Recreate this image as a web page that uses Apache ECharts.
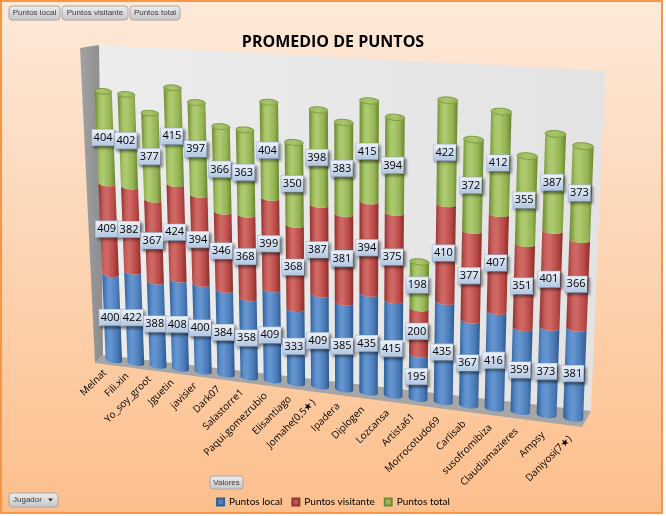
<!DOCTYPE html>
<html>
<head>
<meta charset="utf-8">
<script src="https://cdn.jsdelivr.net/npm/echarts@6/dist/echarts.min.js"></script>
<style>
  html, body { margin: 0; padding: 0; background: #ffffff; }
  #chart { width: 666px; height: 516px; }
</style>
</head>
<body>
<div id="chart"></div>
<script>
var jugadores = ['Melnat', 'Fili.xin', 'Yo_soy_groot', 'Jguetin', 'javisier', 'Dark07', 'Salastorre1',
    'Paqui.gomezrubio', 'Elisantiago', 'Jomahe(0,5★)', 'Ipadera', 'Diplogen', 'Lozcansa', 'Artista61',
    'Morrocotudo69', 'Carlisab', 'susofromibiza', 'Claudiamazieres', 'Ampsy', 'Daniyosi(7★)'];
var puntosLocal     = [400, 422, 388, 408, 400, 384, 358, 409, 333, 409, 385, 435, 415, 195, 435, 367, 416, 359, 373, 381];
var puntosVisitante = [409, 382, 367, 424, 394, 346, 368, 399, 368, 387, 381, 394, 375, 200, 410, 377, 407, 351, 401, 366];
var puntosTotal     = [404, 402, 377, 415, 397, 366, 363, 404, 350, 398, 383, 415, 394, 198, 422, 372, 412, 355, 387, 373];
var nombresSerie = ['Puntos local', 'Puntos visitante', 'Puntos total'];

var LG = echarts.graphic.LinearGradient;

// colores de los cilindros (borde oscuro, brillo, base)
var estilos = [
    { base: '#4F81BD', borde: '#385D8A', stops: ['#2f5e96', '#5b8dcb', '#6696d2', '#4c7cb8', '#2d5990'] },
    { base: '#C0504D', borde: '#8C3836', stops: ['#8f312e', '#c95f5c', '#d06a67', '#bb4a47', '#8a2d2a'] },
    { base: '#9BBB59', borde: '#71893F', stops: ['#6b8a31', '#a4c266', '#aecb70', '#95b454', '#67862e'] }
];

// perspectiva: esquinas del grid (abajo-izq, abajo-der, arriba-der, arriba-izq) en pantalla
var esquinas = [[103, 359], [586.5, 420], [600, 75], [90, 47]];

function cuadradoACuadrilatero(q) {
    var x0 = q[0][0], y0 = q[0][1], x1 = q[1][0], y1 = q[1][1];
    var x2 = q[2][0], y2 = q[2][1], x3 = q[3][0], y3 = q[3][1];
    var dx1 = x1 - x2, dx2 = x3 - x2, dx3 = x0 - x1 + x2 - x3;
    var dy1 = y1 - y2, dy2 = y3 - y2, dy3 = y0 - y1 + y2 - y3;
    var den = dx1 * dy2 - dx2 * dy1;
    var g = (dx3 * dy2 - dx2 * dy3) / den;
    var h = (dx1 * dy3 - dx3 * dy1) / den;
    return {
        a: x1 - x0 + g * x1, b: x3 - x0 + h * x3, c: x0,
        d: y1 - y0 + g * y1, e: y3 - y0 + h * y3, f: y0, g: g, h: h
    };
}
var H = cuadradoACuadrilatero(esquinas);

function proyectar(s, t) {
    var w = H.g * s + H.h * t + 1;
    return [(H.a * s + H.b * t + H.c) / w, (H.d * s + H.e * t + H.f) / w];
}

function arco(c, e, ry, t0, t1, n) {
    var pts = [];
    for (var j = 0; j <= n; j++) {
        var t = t0 + (t1 - t0) * j / n;
        pts.push([c[0] + (e[0] - c[0]) * Math.cos(t), c[1] + (e[1] - c[1]) * Math.cos(t) + ry * Math.sin(t)]);
    }
    return pts;
}

var fondoEtiqueta = new LG(0, 0, 0, 1, [
    { offset: 0, color: '#eef3fa' },
    { offset: 1, color: '#b0c5e0' }
]);

function dibujarSegmento(k) {
    var est = estilos[k];
    var grad = new LG(0, 0, 1, 0, [
        { offset: 0, color: est.stops[0] },
        { offset: 0.25, color: est.stops[1] },
        { offset: 0.42, color: est.stops[2] },
        { offset: 0.75, color: est.stops[3] },
        { offset: 1, color: est.stops[4] }
    ]);
    return function (params, api) {
        var cs = params.coordSys;
        var i = api.value(0), lo = api.value(1), hi = api.value(2), val = api.value(3);
        var mitad = api.size([1, 0])[0] * 0.375;
        function P(px, py) {
            return proyectar((px - cs.x) / cs.width, (cs.y + cs.height - py) / cs.height);
        }
        var a = api.coord([i, lo]), b = api.coord([i, hi]);
        var bc = P(a[0], a[1]), br = P(a[0] + mitad, a[1]);
        var tc = P(b[0], b[1]), tr = P(b[0] + mitad, b[1]);
        var ryB = Math.abs(br[0] - bc[0]) * 0.32;
        var ryT = Math.abs(tr[0] - tc[0]) * 0.32;
        var cuerpo = arco(bc, br, ryB, Math.PI, 0, 16).concat(arco(tc, tr, ryT, 0, Math.PI, 16));
        var hijos = [{
            type: 'polygon',
            shape: { points: cuerpo },
            style: { fill: grad, stroke: null }
        }];
        if (k === 2) {
            hijos.push({
                type: 'polygon',
                shape: { points: arco(tc, tr, ryT, 0, Math.PI * 2, 36) },
                style: {
                    fill: new LG(0, 0, 1, 0, [{ offset: 0, color: '#98b759' }, { offset: 0.5, color: '#aac76c' }, { offset: 1, color: '#8eae4f' }]),
                    stroke: '#7a993d', lineWidth: 1
                }
            });
        }
        var m = P(a[0], (a[1] + b[1]) / 2);
        hijos.push({
            type: 'text',
            z2: 100,
            x: m[0] - 2, y: m[1],
            style: {
                text: String(val),
                font: '11px "Open Sans"',
                fill: '#000000',
                align: 'center',
                verticalAlign: 'middle',
                backgroundColor: fondoEtiqueta,
                borderColor: '#a9bdd8',
                borderWidth: 0.6,
                padding: [3, 1.5, 2, 1.5],
                shadowColor: 'rgba(0,0,0,0.5)',
                shadowBlur: 3,
                shadowOffsetX: 2,
                shadowOffsetY: 2
            }
        });
        return { type: 'group', children: hijos };
    };
}

var valoresSerie = [puntosLocal, puntosVisitante, puntosTotal];
var series = valoresSerie.map(function (vals, k) {
    var datos = jugadores.map(function (j, i) {
        var lo = 0;
        for (var p = 0; p < k; p++) lo += valoresSerie[p][i];
        return [i, lo, lo + vals[i], vals[i]];
    });
    return {
        name: nombresSerie[k],
        type: 'custom',
        renderItem: dibujarSegmento(k),
        itemStyle: { color: estilos[k].base, borderColor: estilos[k].borde, borderWidth: 1 },
        data: datos,
        silent: true
    };
});

// nombres de jugadores bajo cada cilindro
series.push({
    name: 'jugadores',
    type: 'custom',
    silent: true,
    data: jugadores.map(function (j, i) { return [i, 0]; }),
    renderItem: function (params, api) {
        var cs = params.coordSys;
        var i = api.value(0);
        var a = api.coord([i, 0]);
        var p = proyectar((a[0] - cs.x) / cs.width, (cs.y + cs.height - a[1]) / cs.height);
        var f = i / (jugadores.length - 1);
        return {
            type: 'text',
            x: p[0] - 9 + 6 * f,
            y: p[1] + 11 + 8 * f,
            rotation: Math.PI / 4,
            style: {
                text: jugadores[i],
                font: '10px "Open Sans"',
                fill: '#000000',
                align: 'right',
                verticalAlign: 'middle'
            }
        };
    }
});

function boton(x, y, w, h, txt, flecha) {
    var hijos = [{
        type: 'rect',
        shape: { x: x, y: y, width: w, height: h, r: 3 },
        style: {
            fill: new LG(0, 0, 0, 1, [{ offset: 0, color: '#eeeeee' }, { offset: 1, color: '#c6c6c6' }]),
            stroke: '#a8a8a8', lineWidth: 1
        }
    }, {
        type: 'text',
        x: flecha ? x + 4 : x + w / 2,
        y: y + h / 2,
        style: { text: txt, font: '8px "Liberation Sans"', fill: '#3a3a3a', align: flecha ? 'left' : 'center', verticalAlign: 'middle' }
    }];
    if (flecha) {
        hijos.push({
            type: 'polygon',
            shape: { points: [[x + w - 10, y + h / 2 - 1.5], [x + w - 5, y + h / 2 - 1.5], [x + w - 7.5, y + h / 2 + 1.5]] },
            style: { fill: '#333333' }
        });
    }
    return { type: 'group', z: 50, children: hijos };
}

var chart = echarts.init(document.getElementById('chart'));
chart.setOption({
    animation: false,
    backgroundColor: '#ffffff',
    title: {
        text: 'PROMEDIO DE PUNTOS',
        left: 'center',
        top: 29,
        textStyle: { fontFamily: 'Open Sans', fontSize: 16, fontWeight: 'bold', color: '#000000' }
    },
    legend: {
        data: nombresSerie,
        left: 'center',
        top: 492,
        icon: 'rect',
        itemWidth: 7,
        itemHeight: 7,
        itemGap: 9,
        selectedMode: false,
        textStyle: { fontFamily: 'Lato', fontSize: 10, color: '#000000' }
    },
    grid: { left: 100, right: 66, top: 50, bottom: 100 },
    xAxis: { type: 'category', data: jugadores, show: false },
    yAxis: { type: 'value', min: 0, max: 1400, show: false },
    graphic: [
        {
            type: 'rect', z: -10,
            shape: { x: 0, y: 0, width: 663, height: 514 },
            style: {
                fill: new LG(0, 0, 0, 1, [{ offset: 0, color: '#fde9d9' }, { offset: 1, color: '#fcbf8c' }])
            }
        },
        {
            type: 'polygon', z: -5,
            shape: { points: [[99, 45], [605, 71], [591, 411], [103, 355]] },
            style: { fill: new LG(0, 0, 1, 0, [{ offset: 0, color: '#ececec' }, { offset: 1, color: '#e3e3e3' }]) }
        },
        {
            type: 'polygon', z: -5,
            shape: { points: [[80, 48], [99, 45], [103, 355], [95, 363]] },
            style: { fill: new LG(0, 0, 1, 0, [{ offset: 0, color: '#a3a3a3' }, { offset: 1, color: '#8c8c8c' }]) }
        },
        {
            type: 'polygon', z: -5,
            shape: { points: [[103, 355], [591, 411], [582, 427], [95, 363]] },
            style: { fill: '#a6a6a6' }
        },
        {
            type: 'rect', z: 60,
            shape: { x: 1, y: 1, width: 661, height: 512 },
            style: { fill: null, stroke: '#f79646', lineWidth: 2 }
        },
        boton(9, 6, 51, 14, 'Puntos local'),
        boton(62, 6, 66, 14, 'Puntos visitante'),
        boton(130, 6, 50, 14, 'Puntos total'),
        boton(210, 476, 33, 13, 'Valores'),
        boton(9, 493, 49, 14, 'Jugador', true)
    ],
    series: series
});
window.addEventListener('resize', function () {
    chart.resize();
});
</script>
</body>
</html>
